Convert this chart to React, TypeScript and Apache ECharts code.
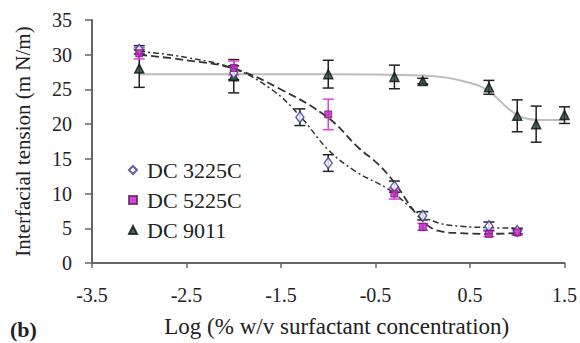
import React, { useEffect, useRef } from "react";
import * as echarts from "echarts";

// x-axis offset so that ticks fall at -3.5, -2.5, ... (axis min multiple of interval)
const X_OFFSET = 3.5;
const xTickLabels = ["-3.5", "-2.5", "-1.5", "-0.5", "0.5", "1.5"];

// DC 3225C measured points
const x3225 = [-3, -2, -1.3, -1, -0.3, 0, 0.7, 1];
const y3225 = [30.7, 27.4, 21.0, 14.4, 11.0, 6.8, 5.3, 4.6];
const e3225 = [0.6, 1.0, 1.2, 1.2, 0.8, 0.6, 0.6, 0.4];

// DC 5225C measured points
const x5225 = [-3, -2, -1, -0.3, 0, 0.7, 1];
const y5225 = [30.2, 28.1, 21.4, 10.0, 5.2, 4.2, 4.4];
const e5225 = [0.8, 1.0, 2.2, 0.8, 0.5, 0.4, 0.4];

// DC 9011 measured points
const x9011 = [-3, -2, -1, -0.3, 0, 0.7, 1, 1.2, 1.5];
const y9011 = [28.0, 26.9, 27.2, 26.8, 26.2, 25.3, 21.2, 20.0, 21.3];
const e9011 = [2.7, 2.4, 2.0, 1.7, 0.4, 1.0, 2.3, 2.6, 1.2];

// fitted curves
const c3225x = [-3, -2.5, -2, -1.6, -1.3, -1.0, -0.7, -0.36, -0.05, 0.16, 0.4, 0.7, 1.0];
const c3225y = [30.5, 29.6, 28.0, 25.0, 21.2, 16.3, 13.1, 10.6, 7.2, 5.8, 5.3, 5.1, 5.0];

const c5225x = [-3, -2.5, -2, -1.5, -1.0, -0.68, -0.47, -0.29, -0.05, 0.16, 0.4, 0.7, 1.0];
const c5225y = [30.0, 29.2, 28.0, 25.0, 20.9, 16.6, 14.2, 11.4, 6.8, 4.65, 4.3, 4.2, 4.3];

const c9011x = [-3, -1, 0, 0.25, 0.45, 0.6, 0.75, 0.9, 1.05, 1.25, 1.5];
const c9011y = [27.2, 27.2, 27.0, 26.7, 26.1, 25.5, 24.2, 22.3, 21.0, 20.6, 20.6];

const zip = (xs: number[], ys: number[]) => xs.map((x, i) => [x + X_OFFSET, ys[i]]);
const zip3 = (xs: number[], ys: number[], es: number[]) =>
  xs.map((x, i) => [x + X_OFFSET, ys[i], es[i]]);

const FONT = "Liberation Serif";

function errorSeries(name: string, data: number[][], color: string) {
  return {
    type: "custom",
    name,
    data,
    z: 3,
    silent: true,
    renderItem: (_params: any, api: any) => {
      const x = api.value(0);
      const y = api.value(1);
      const e = api.value(2);
      const top = api.coord([x, y + e]);
      const bot = api.coord([x, y - e]);
      const cap = 5.5;
      const style = { stroke: color, lineWidth: 1.5 };
      return {
        type: "group",
        children: [
          { type: "line", shape: { x1: top[0], y1: top[1], x2: bot[0], y2: bot[1] }, style },
          { type: "line", shape: { x1: top[0] - cap, y1: top[1], x2: top[0] + cap, y2: top[1] }, style },
          { type: "line", shape: { x1: bot[0] - cap, y1: bot[1], x2: bot[0] + cap, y2: bot[1] }, style },
        ],
      };
    },
  };
}

export default function App() {
  const ref = useRef<HTMLDivElement>(null);
  useEffect(() => {
    if (!ref.current) return;
    const chart = echarts.init(ref.current, undefined, { renderer: "svg" });
    chart.setOption({
      animation: false,
      backgroundColor: "#fff",
      textStyle: { fontFamily: FONT },
      grid: { left: 92, right: 13, top: 20, bottom: 75 },
      xAxis: {
        type: "value",
        min: 0,
        max: 5,
        interval: 1,
        name: "Log (% w/v surfactant concentration)",
        nameLocation: "middle",
        nameGap: 52,
        nameTextStyle: { fontFamily: FONT, fontSize: 23, color: "#222", padding: [0, 0, 0, 17] },
        axisLine: { lineStyle: { color: "#666", width: 2 } },
        axisTick: { show: true, length: 5, lineStyle: { color: "#666", width: 1.5 } },
        axisLabel: {
          fontFamily: FONT,
          fontSize: 20,
          color: "#222",
          margin: 22,
          formatter: (v: number) => xTickLabels[Math.round(v)] ?? "",
        },
        splitLine: { show: false },
      },
      yAxis: {
        type: "value",
        min: 0,
        max: 35,
        interval: 5,
        name: "Interfacial tension (m N/m)",
        nameLocation: "middle",
        nameGap: 59,
        nameTextStyle: { fontFamily: FONT, fontSize: 21, color: "#222" },
        axisLine: { show: true, lineStyle: { color: "#666", width: 2 } },
        axisTick: { show: true, length: 7, lineStyle: { color: "#666", width: 1.5 } },
        axisLabel: { fontFamily: FONT, fontSize: 20, color: "#222", margin: 20 },
        splitLine: { show: false },
      },
      legend: {
        orient: "vertical",
        left: 123,
        top: 154,
        itemWidth: 8,
        itemHeight: 8,
        itemGap: 8,
        data: ["DC 3225C", "DC 5225C", "DC 9011"],
        textStyle: { fontFamily: FONT, fontSize: 22, color: "#222", lineHeight: 22, padding: [0, 0, 0, 5] },
      },
      graphic: [
        {
          type: "text",
          left: 10,
          top: 318,
          style: { text: "(b)", fontFamily: FONT, fontSize: 22, fontWeight: "bold", fill: "#222" },
        },
      ],
      series: [
        {
          type: "line",
          name: "fit 9011",
          data: zip(c9011x, c9011y),
          smooth: 0.4,
          symbol: "none",
          lineStyle: { color: "#bdbdbd", width: 2 },
          z: 1,
          silent: true,
        },
        {
          type: "line",
          name: "fit 3225C",
          data: zip(c3225x, c3225y),
          smooth: 0.4,
          symbol: "none",
          lineStyle: { color: "#333", width: 1.5, type: [6, 3, 2, 3] },
          z: 2,
          silent: true,
        },
        {
          type: "line",
          name: "fit 5225C",
          data: zip(c5225x, c5225y),
          smooth: 0.4,
          symbol: "none",
          lineStyle: { color: "#333", width: 1.8, type: [8, 4] },
          z: 2,
          silent: true,
        },
        errorSeries("err 9011", zip3(x9011, y9011, e9011), "#222"),
        errorSeries("err 3225C", zip3(x3225, y3225, e3225), "#222"),
        errorSeries("err 5225C", zip3(x5225, y5225, e5225), "#e040e0"),
        {
          type: "scatter",
          name: "DC 9011",
          data: zip(x9011, y9011),
          symbol: "triangle",
          symbolSize: 9,
          itemStyle: { color: "#24493d", borderColor: "#111", borderWidth: 1.5 },
          z: 5,
        },
        {
          type: "scatter",
          name: "DC 3225C",
          data: zip(x3225, y3225),
          symbol: "diamond",
          symbolSize: [8, 11],
          itemStyle: { color: "#fff", borderColor: "#3b3b9a", borderWidth: 1.5 },
          z: 5,
        },
        {
          type: "scatter",
          name: "DC 5225C",
          data: zip(x5225, y5225),
          symbol: "rect",
          symbolSize: 7,
          itemStyle: { color: "#c21fc2", borderColor: "#602060", borderWidth: 1 },
          z: 6,
        },
      ],
    });
    return () => chart.dispose();
  }, []);
  return <div ref={ref} style={{ width: 580, height: 343, position: "absolute", left: 0, top: 0 }} />;
}
